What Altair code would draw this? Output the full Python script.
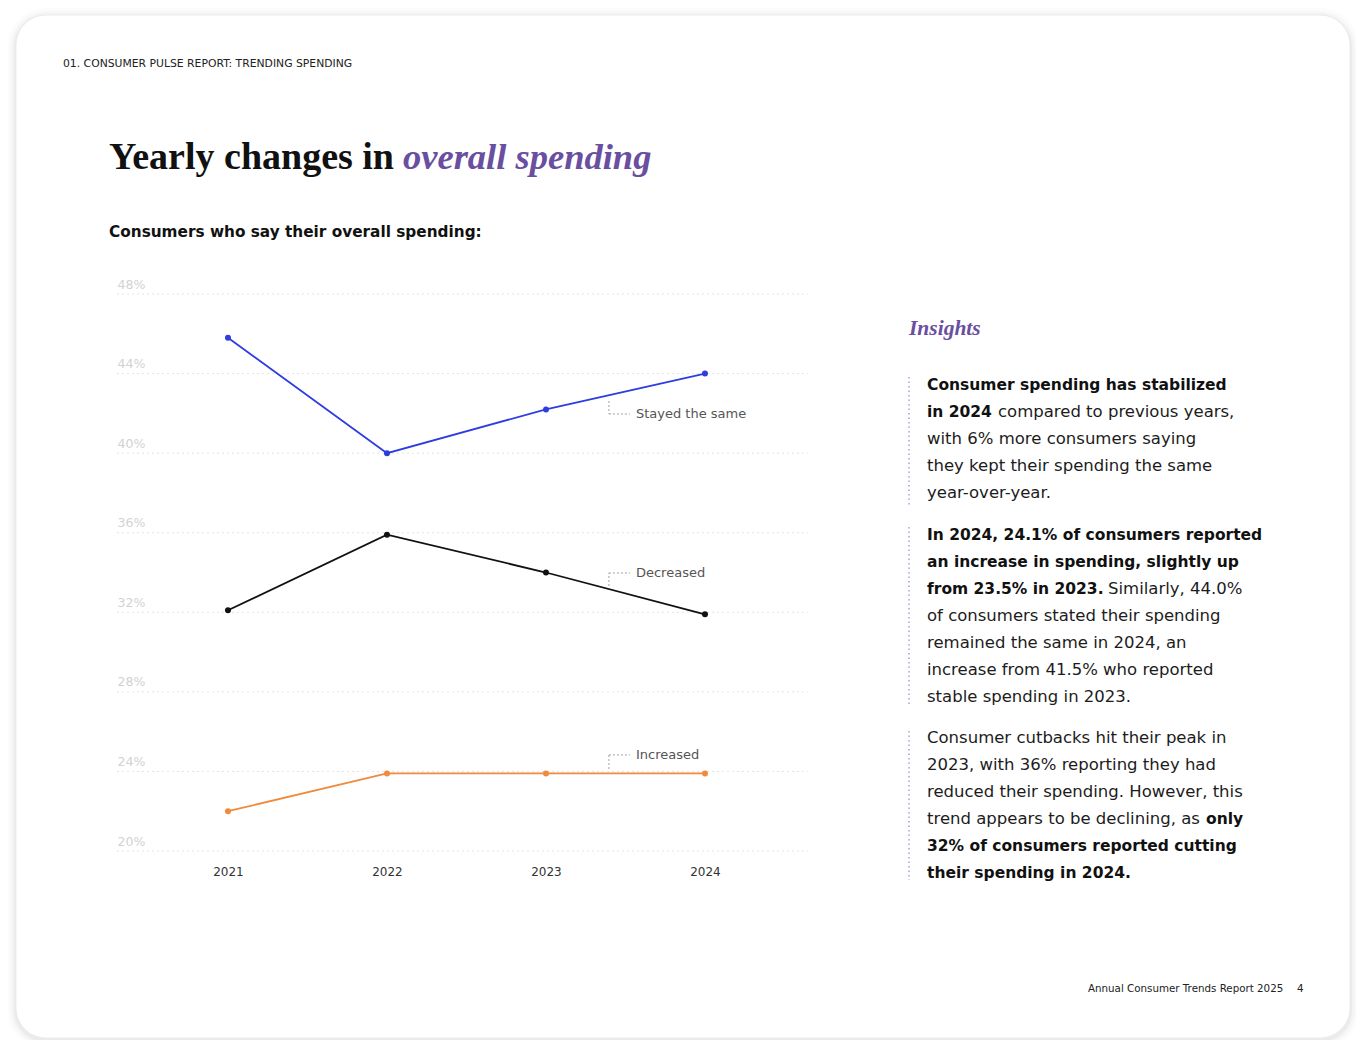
import altair as alt
import pandas as pd

# ---------------- data ----------------
YEARS = [2021, 2022, 2023, 2024]
STAYED = [45.8, 40.0, 42.2, 44.0]
DECREASED = [32.1, 35.9, 34.0, 31.9]
INCREASED = [22.0, 23.9, 23.9, 23.9]
SERIES = ["Stayed the same", "Decreased", "Increased"]
COLORS = ["#2e3de0", "#111111", "#f08a3c"]
Y_TICKS = [20, 24, 28, 32, 36, 40, 44, 48]

HEADER = "01. CONSUMER PULSE REPORT: TRENDING SPENDING"
TITLE_A = "Yearly changes in"
TITLE_B = "overall spending"
SUBTITLE = "Consumers who say their overall spending:"
INSIGHTS = "Insights"
FOOTER = "Annual Consumer Trends Report 2025"
PAGE = "4"

# annotation anchors (data coords): label, x of elbow, x of text, y of line, y of label
ANNOT = [
    ("Stayed the same", 2023.396, 2023.566, 42.62, 41.97),
    ("Decreased", 2023.396, 2023.566, 33.32, 33.975),
    ("Increased", 2023.396, 2023.566, 24.12, 24.83),
]

# insight paragraphs: list of lines, each line list of (text, bold)
BLOCKS = [
    [
        [("Consumer spending has stabilized", True)],
        [("in 2024", True), ("compared to previous years,", False)],
        [("with 6% more consumers saying", False)],
        [("they kept their spending the same", False)],
        [("year-over-year.", False)],
    ],
    [
        [("In 2024, 24.1% of consumers reported", True)],
        [("an increase in spending, slightly up", True)],
        [("from 23.5% in 2023.", True), ("Similarly, 44.0%", False)],
        [("of consumers stated their spending", False)],
        [("remained the same in 2024, an", False)],
        [("increase from 41.5% who reported", False)],
        [("stable spending in 2023.", False)],
    ],
    [
        [("Consumer cutbacks hit their peak in", False)],
        [("2023, with 36% reporting they had", False)],
        [("reduced their spending. However, this", False)],
        [("trend appears to be declining, as", False), ("only", True)],
        [("32% of consumers reported cutting", True)],
        [("their spending in 2024.", True)],
    ],
]

# ---------------- layout ----------------
SANS = "DejaVu Sans"
SERIF = "Liberation Serif"
X0, Y0 = 117, 294          # plot origin in page pixels
W, H = 691, 557
one = pd.DataFrame({"k": [0]})


def text(s, X, Y, size, weight="normal", color="#111111", font=SANS,
         style="normal", align="left", baseline="middle"):
    return alt.Chart(one).mark_text(
        align=align, baseline=baseline, font=font, fontSize=size,
        fontWeight=weight, fontStyle=style, color=color,
    ).encode(x=alt.value(X - X0), y=alt.value(Y - Y0), text=alt.value(s))


def rect(x1, y1, x2, y2, **kw):
    return alt.Chart(one).mark_rect(**kw).encode(
        x=alt.value(x1 - X0), x2=alt.value(x2 - X0),
        y=alt.value(y1 - Y0), y2=alt.value(y2 - Y0))


layers = []
# card shadow + card
for d, op in [(9, 0.012), (6, 0.016), (4, 0.02), (2, 0.03)]:
    layers.append(rect(16 - d, 15 - d + 2, 1350 + d, 1038 + d + 2,
                       cornerRadius=30 + d, fill="#000000", opacity=op))
layers.append(rect(16, 15, 1350, 1038, cornerRadius=30, fill="#ffffff",
                   stroke="#ebebeb", strokeWidth=1))

# line chart
rows = []
for s, vals in zip(SERIES, [STAYED, DECREASED, INCREASED]):
    for yr, v in zip(YEARS, vals):
        rows.append({"year": yr, "value": v, "series": s})
df = pd.DataFrame(rows)

xscale = alt.Scale(domain=[2020.302, 2024.648], nice=False, zero=False)
yscale = alt.Scale(domain=[20, 48], nice=False, zero=False)
cscale = alt.Scale(domain=SERIES, range=COLORS)

xaxis = alt.Axis(values=YEARS, format="d", title=None, grid=False, domain=False,
                 ticks=False, tickSize=0, labelPadding=15, labelFont=SANS,
                 labelFontSize=12, labelColor="#333333", zindex=1)
yaxis = alt.Axis(values=Y_TICKS, title=None, grid=False, domain=False, ticks=False,
                 tickSize=0, labelPadding=0, labelAlign="left", labelBaseline="bottom",
                 labelOffset=-3, labelExpr="datum.value + '%'", labelFont=SANS,
                 labelFontSize=12.5, labelColor="#d2d2d2", zindex=1)


def X(field):
    return alt.X(field, type="quantitative", scale=xscale, axis=xaxis)


def Y(field):
    return alt.Y(field, type="quantitative", scale=yscale, axis=yaxis)


grid = alt.Chart(pd.DataFrame({"v": Y_TICKS})).mark_rule(
    color="#e4e4e4", strokeDash=[2, 3], strokeWidth=1
).encode(y=Y("v"), x=alt.value(0), x2=alt.value(W))
layers.append(grid)

base = alt.Chart(df).encode(
    x=X("year"),
    y=Y("value"),
    color=alt.Color("series:N", scale=cscale, legend=None),
)
layers.append(base.mark_line(strokeWidth=1.8))
layers.append(base.mark_circle(size=36, opacity=1))

ann = pd.DataFrame(ANNOT, columns=["label", "xe", "xt", "yl", "ylab"])
ann["xh"] = ann["xt"] - 0.038
layers.append(alt.Chart(ann).mark_rule(color="#a0a0a0", strokeDash=[2, 2], strokeWidth=1).encode(
    x=X("xe"), y=Y("yl"), y2="ylab:Q"))
layers.append(alt.Chart(ann).mark_rule(color="#a0a0a0", strokeDash=[2, 2], strokeWidth=1).encode(
    x=X("xe"), x2="xh:Q", y=Y("ylab")))
layers.append(alt.Chart(ann).mark_text(align="left", baseline="middle", font=SANS,
                                       fontSize=13, color="#555555").encode(
    x=X("xt"), y=Y("ylab"), text="label:N"))

# texts
layers.append(text(HEADER, 63, 64, 10.8, color="#222222"))
layers.append(text(TITLE_A, 109, 169, 38, weight="bold", font=SERIF, baseline="alphabetic"))
layers.append(text(TITLE_B, 403, 169, 36.5, weight="bold", font=SERIF, style="italic",
                   color="#6a4ea0", baseline="alphabetic"))
layers.append(text(SUBTITLE, 109, 232, 15.3, weight="bold"))
layers.append(text(INSIGHTS, 909, 329, 21.5, weight="bold", font=SERIF, style="italic",
                   color="#6a4ea0"))
layers.append(text(FOOTER, 1088, 989, 10.3, color="#222222"))
layers.append(text(PAGE, 1297, 989, 10.3, color="#222222"))

# insight blocks
BLOCK_Y = [385, 535, 738]
BAR = [(377, 505), (527, 707), (731, 880)]
# x of a second segment on mixed lines (page px)
SEG2_X = {(0, 1): 998, (1, 2): 1108, (2, 3): 1206}
for bi, block in enumerate(BLOCKS):
    y1, y2 = BAR[bi]
    layers.append(alt.Chart(one).mark_rule(color="#a49bd8", strokeDash=[1.5, 3], strokeWidth=1.4).encode(
        x=alt.value(909 - X0), y=alt.value(y1 - Y0), y2=alt.value(y2 - Y0)))
    for li, line in enumerate(block):
        yy = BLOCK_Y[bi] + li * 27
        for si, (seg, bold) in enumerate(line):
            xx = 927 if si == 0 else SEG2_X[(bi, li)]
            layers.append(text(seg, xx, yy, 15.5 if bold else 16.5,
                               weight="bold" if bold else "normal",
                               color="#111111" if bold else "#1c1c1c"))

chart = alt.layer(*layers).properties(
    width=W, height=H,
    padding={"left": 109, "top": 286, "right": 548, "bottom": 189},
    autosize="none", background="#ffffff",
).configure_view(stroke=None)

chart.save("out.html", embed_options={"renderer": "svg", "actions": False})
